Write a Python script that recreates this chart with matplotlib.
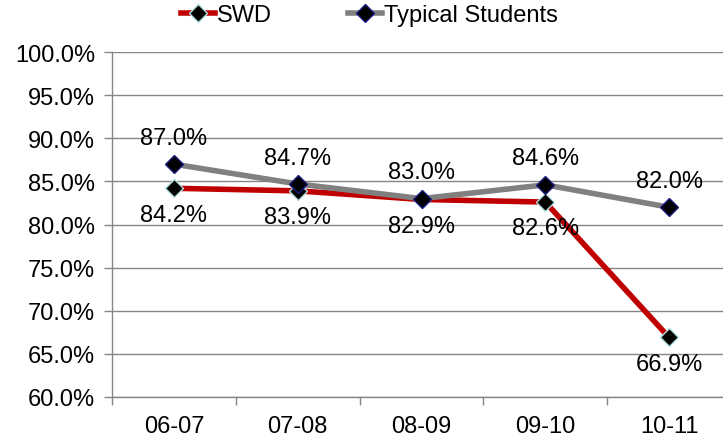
import matplotlib
matplotlib.use("Agg")
import matplotlib.pyplot as plt
from matplotlib.ticker import FixedLocator, FuncFormatter

plt.rcParams['font.family'] = ['Liberation Sans', 'DejaVu Sans']

categories = ["06-07", "07-08", "08-09", "09-10", "10-11"]
swd = [84.2, 83.9, 82.9, 82.6, 66.9]
typical = [87.0, 84.7, 83.0, 84.6, 82.0]
yticks = [60, 65, 70, 75, 80, 85, 90, 95, 100]

fig = plt.figure(figsize=(7.23, 4.39), dpi=100)
ax = fig.add_axes([112/723, 1-398/439, (731-112)/723, (398-53)/439])

x = list(range(len(categories)))
ax.plot(x, swd, color='#c00000', lw=4, marker='D', ms=9.5, mfc='black',
        mec='#b0e0e0', mew=1, label='SWD', zorder=3, solid_joinstyle='round')
ax.plot(x, typical, color='#808080', lw=4, marker='D', ms=9.5, mfc='black',
        mec='#1a1a80', mew=1, label='Typical Students', zorder=4, solid_joinstyle='round')

fs = 17
for xi, v in zip(x, typical):
    ax.annotate(f"{v:.1f}%", (xi, v), xytext=(0, 19), textcoords='offset points',
                ha='center', va='center', fontsize=fs)
for xi, v in zip(x, swd):
    ax.annotate(f"{v:.1f}%", (xi, v), xytext=(0, -19), textcoords='offset points',
                ha='center', va='center', fontsize=fs)

ax.set_xlim(-0.5, len(categories) - 0.5)
ax.set_ylim(60, 100)
ax.set_yticks(yticks)
ax.yaxis.set_major_formatter(FuncFormatter(lambda v, p: f"{v:.1f}%"))
ax.set_xticks(x)
ax.set_xticklabels(categories)
ax.xaxis.set_minor_locator(FixedLocator([i - 0.5 for i in range(len(categories) + 1)]))
ax.tick_params(axis='x', which='major', length=0, pad=13, labelsize=fs)
ax.tick_params(axis='x', which='minor', length=6, color='#868686', width=1, direction='out')
ax.tick_params(axis='y', length=6, color='#868686', width=1, direction='out', labelsize=fs, pad=6)

ax.grid(axis='y', color='#868686', lw=1)
ax.set_axisbelow(True)
for s in ['top', 'right']:
    ax.spines[s].set_visible(False)
for s in ['left', 'bottom']:
    ax.spines[s].set_color('#868686')
    ax.spines[s].set_linewidth(1)

fig.legend(loc='center', bbox_to_anchor=(0.511, 1 - 16/439), ncol=2, frameon=False,
           fontsize=fs, handlelength=1.45, columnspacing=3.2, handletextpad=0.1,
           borderaxespad=0)

fig.savefig("out.png", dpi=100)
